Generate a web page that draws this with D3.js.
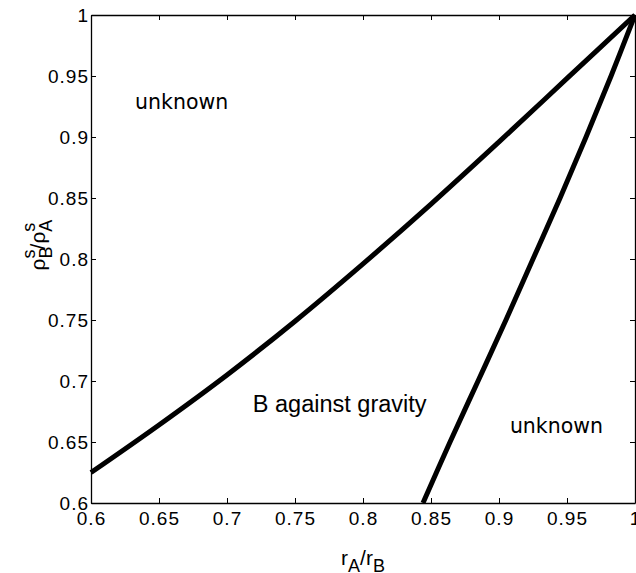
<!DOCTYPE html>
<html>
<head>
<meta charset="utf-8">
<script src="https://cdn.jsdelivr.net/npm/d3@7"></script>
<style>
  html, body { margin: 0; padding: 0; background: #fff; }
  svg { display: block; }
  text { font-family: "Liberation Sans", Arial, Helvetica, sans-serif; fill: #000; }
</style>
</head>
<body>
<svg id="chart" width="636" height="573"></svg>
<script>
// Boundary curves in the (r_A/r_B, rho_B^s/rho_A^s) plane
const upperX = [0.6, 0.65, 0.7, 0.75, 0.8, 0.85, 0.9, 0.95, 1.0];
const upperY = [0.625, 0.664, 0.705, 0.749, 0.796, 0.845, 0.896, 0.948, 1.0];

const lowerY = [0.6, 0.65, 0.7, 0.75, 0.8, 0.85, 0.9, 0.95, 1.0];
const lowerX = [0.8441, 0.8640, 0.8846, 0.9051, 0.9250, 0.9449, 0.9640, 0.9824, 1.0];

const xTicks = [0.6, 0.65, 0.7, 0.75, 0.8, 0.85, 0.9, 0.95, 1];
const yTicks = [0.6, 0.65, 0.7, 0.75, 0.8, 0.85, 0.9, 0.95, 1];

// Region annotations (anchored at the start of the text baseline)
const regionLabels = [
  { text: "unknown", x: 0.6324, y: 0.923, font: "'DejaVu Sans', sans-serif", size: 20.5 },
  { text: "B against gravity", x: 0.719, y: 0.6746, font: "'Liberation Sans', Arial, sans-serif", size: 23.5 },
  { text: "unknown", x: 0.908, y: 0.6574, font: "'DejaVu Sans', sans-serif", size: 20.5 }
];

const svg = d3.select("#chart");
const margin = { left: 91, top: 15, right: 1, bottom: 70 };
const W = 636, H = 573;
const x = d3.scaleLinear().domain([0.6, 1]).range([margin.left, W - margin.right]);
const y = d3.scaleLinear().domain([0.6, 1]).range([H - margin.bottom, margin.top]);

const fmt = d => (d === 1 ? "1" : String(+d.toFixed(2)));
const tickLen = 5;

// Axes with ticks pointing inward, boxed frame
const axisStyle = g => {
  g.selectAll(".domain").attr("stroke", "#000").attr("stroke-width", 1.3);
  g.selectAll(".tick line").attr("stroke", "#000").attr("stroke-width", 1);
  g.selectAll(".tick text")
    .style("font-size", "19px")
    .style("letter-spacing", "1px")
    .attr("fill", "#000");
};

svg.append("g")
  .attr("transform", `translate(0,${y(0.6)})`)
  .call(d3.axisBottom(x).tickValues(xTicks).tickFormat(fmt).tickSizeInner(-tickLen).tickSizeOuter(0).tickPadding(9))
  .call(axisStyle);

svg.append("g")
  .attr("transform", `translate(0,${y(1)})`)
  .call(d3.axisTop(x).tickValues(xTicks).tickFormat("").tickSizeInner(-tickLen).tickSizeOuter(0))
  .call(axisStyle);

svg.append("g")
  .attr("transform", `translate(${x(0.6)},0)`)
  .call(d3.axisLeft(y).tickValues(yTicks).tickFormat(fmt).tickSizeInner(-tickLen).tickSizeOuter(0).tickPadding(2))
  .call(axisStyle);

svg.append("g")
  .attr("transform", `translate(${x(1)},0)`)
  .call(d3.axisRight(y).tickValues(yTicks).tickFormat("").tickSizeInner(-tickLen).tickSizeOuter(0))
  .call(axisStyle);

// Curves
const line = d3.line().x(d => x(d[0])).y(d => y(d[1])).curve(d3.curveCatmullRom);

svg.append("path")
  .datum(upperX.map((v, i) => [v, upperY[i]]))
  .attr("d", line)
  .attr("fill", "none").attr("stroke", "#000").attr("stroke-width", 5)
  .attr("stroke-linejoin", "round");

svg.append("path")
  .datum(lowerY.map((v, i) => [lowerX[i], v]))
  .attr("d", line)
  .attr("fill", "none").attr("stroke", "#000").attr("stroke-width", 5)
  .attr("stroke-linejoin", "round");

// Region labels
svg.selectAll("text.region")
  .data(regionLabels)
  .enter().append("text")
  .attr("class", "region")
  .attr("x", d => x(d.x))
  .attr("y", d => y(d.y))
  .style("font-family", d => d.font)
  .style("font-size", d => d.size + "px")
  .text(d => d.text);

// Axis titles with sub/superscripts
const xt = svg.append("text")
  .attr("x", (x(0.6) + x(1)) / 2)
  .attr("y", 565)
  .attr("text-anchor", "middle")
  .style("font-size", "21px");
xt.append("tspan").text("r");
xt.append("tspan").attr("dy", 7).style("font-size", "18px").text("A");
xt.append("tspan").attr("dy", -7).text("/r");
xt.append("tspan").attr("dy", 7).style("font-size", "18px").text("B");

const yt = svg.append("text")
  .attr("transform", `translate(45,${(y(0.6) + y(1)) / 2 - 14}) rotate(-90)`)
  .attr("text-anchor", "middle")
  .style("font-size", "21px");
yt.append("tspan").text("ρ");
yt.append("tspan").attr("dy", 7).style("font-size", "18px").text("B");
yt.append("tspan").attr("dy", -17).attr("dx", -12).style("font-size", "18px").text("s");
yt.append("tspan").attr("dy", 10).text("/ρ");
yt.append("tspan").attr("dy", 7).style("font-size", "18px").text("A");
yt.append("tspan").attr("dy", -17).attr("dx", -12).style("font-size", "18px").text("s");
</script>
</body>
</html>
